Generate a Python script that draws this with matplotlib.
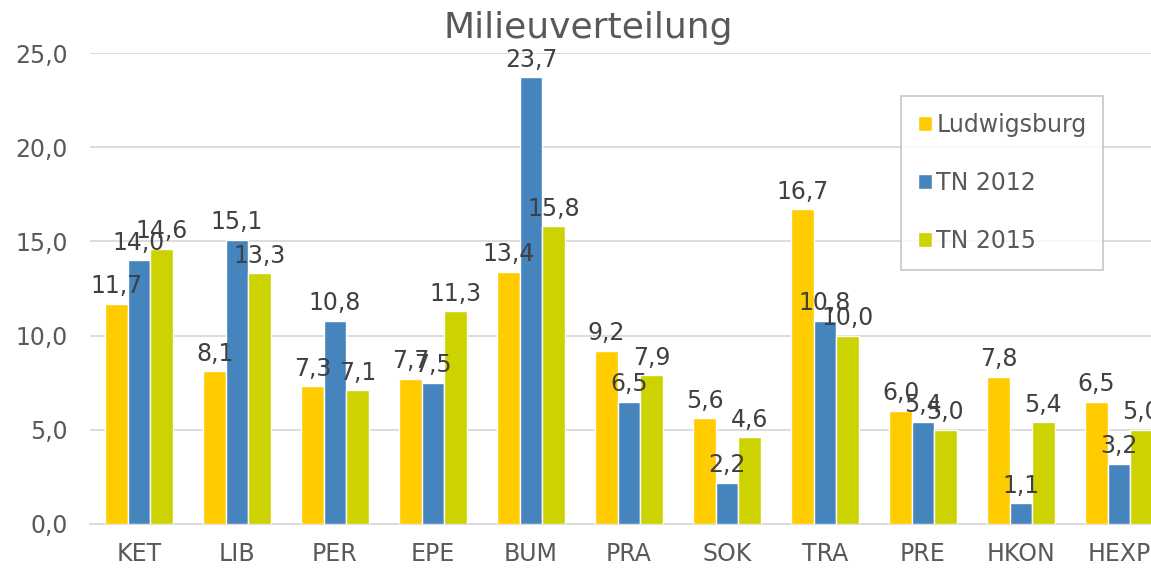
import numpy as np
import matplotlib
matplotlib.use("Agg")
import matplotlib.pyplot as plt
from matplotlib.ticker import FuncFormatter

# ========================================
# Daten
# ========================================
kategorien = ["KET", "LIB", "PER", "EPE", "BUM", "PRA", "SOK", "TRA", "PRE", "HKON", "HEXP"]
ludwigsburg = [11.7, 8.1, 7.3, 7.7, 13.4, 9.2, 5.6, 16.7, 6.0, 7.8, 6.5]
tn_2012 = [14.0, 15.1, 10.8, 7.5, 23.7, 6.5, 2.2, 10.8, 5.4, 1.1, 3.2]
tn_2015 = [14.6, 13.3, 7.1, 11.3, 15.8, 7.9, 4.6, 10.0, 5.0, 5.4, 5.0]

serien = ["Ludwigsburg", "TN 2012", "TN 2015"]
farben = ["#FFCC00", "#4584BD", "#CCD300"]

W, H = 1151, 569


def komma(v, pos=None):
    return f"{v:.1f}".replace(".", ",")


def main():
    fig = plt.figure(figsize=(W / 100, H / 100), dpi=100)
    # Achse läuft rechts etwas über den Bildrand hinaus (wie im Original)
    ax = fig.add_axes([90 / W, (H - 524) / H, 1078 / W, 471 / H])

    x = np.arange(len(kategorien))
    breite = 0.228
    werte = [ludwigsburg, tn_2012, tn_2015]

    for i, (name, farbe, daten) in enumerate(zip(serien, farben, werte)):
        bars = ax.bar(x + (i - 1) * breite, daten, breite, color=farbe,
                      edgecolor="white", linewidth=1, label=name, zorder=3)
        ax.bar_label(bars, labels=[komma(v) for v in daten], padding=4,
                     fontsize=17, color="#404040", zorder=4)

    ax.set_xlim(-0.5, len(kategorien) - 0.5)
    ax.set_ylim(0, 25)
    ax.set_yticks(np.arange(0, 26, 5))
    ax.yaxis.set_major_formatter(FuncFormatter(komma))
    ax.set_xticks(x)
    ax.set_xticklabels(kategorien)

    ax.grid(axis="y", color="#D9D9D9", linewidth=1.3, zorder=0)
    for s in ["top", "right", "left"]:
        ax.spines[s].set_visible(False)
    ax.spines["bottom"].set_color("#D9D9D9")
    ax.spines["bottom"].set_linewidth(1.3)
    ax.tick_params(axis="y", length=0, pad=16, labelsize=17, labelcolor="#595959")
    ax.tick_params(axis="x", length=0, pad=13, labelsize=17, labelcolor="#595959")

    fig.text(588 / W, 1 - 28 / H, "Milieuverteilung", ha="center", va="center",
             fontsize=26, color="#595959")

    leg = ax.legend(loc="upper left", bbox_to_anchor=(901 / W, 1 - 96 / H),
                    bbox_transform=fig.transFigure, borderaxespad=0,
                    fontsize=17, labelcolor="#595959", frameon=True, fancybox=False,
                    edgecolor="#BFBFBF", handlelength=0.6, handleheight=0.6,
                    handletextpad=0.2, labelspacing=1.45, borderpad=0.7)
    leg.get_frame().set_linewidth(1.3)
    leg.set_zorder(5)

    fig.savefig("out.png", dpi=100)
    plt.close(fig)


if __name__ == "__main__":
    main()
